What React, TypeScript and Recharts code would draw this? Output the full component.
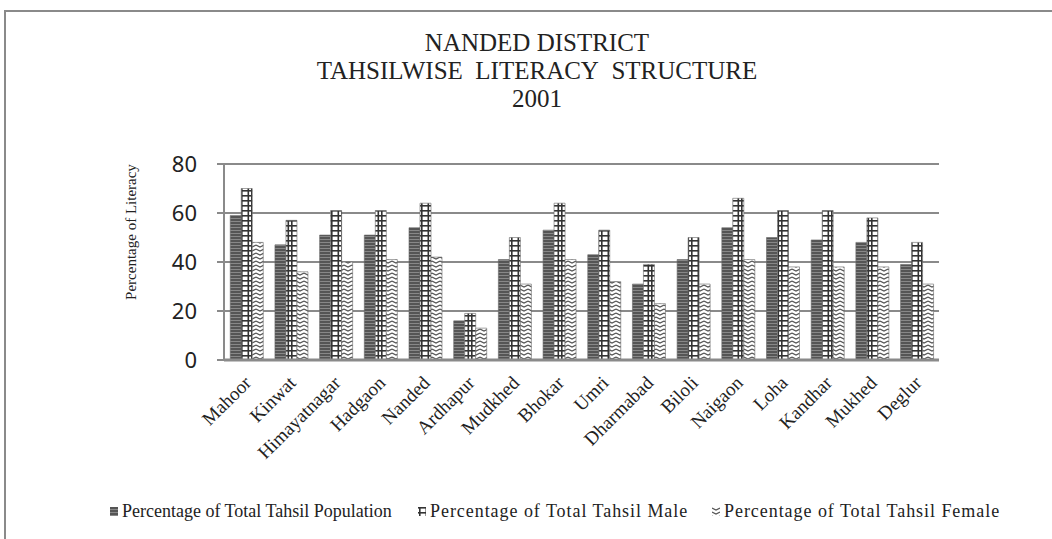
import React from "react";
import { BarChart, Bar, XAxis, YAxis, CartesianGrid } from "recharts";

const TAHSILS = [
  "Mahoor", "Kinwat", "Himayatnagar", "Hadgaon", "Nanded", "Ardhapur", "Mudkhed", "Bhokar",
  "Umri", "Dharmabad", "Biloli", "Naigaon", "Loha", "Kandhar", "Mukhed", "Deglur",
];
const TOTAL = [59, 47, 51, 51, 54, 16, 41, 53, 43, 31, 41, 54, 50, 49, 48, 39];
const MALE = [70, 57, 61, 61, 64, 19, 50, 64, 53, 39, 50, 66, 61, 61, 58, 48];
const FEMALE = [48, 36, 40, 41, 42, 13, 31, 41, 32, 23, 31, 41, 38, 38, 38, 31];
const Y_TICKS = [0, 20, 40, 60, 80];

const SERIES = [
  { key: "total", name: "Percentage of Total Tahsil Population", fill: "url(#patTotal)", lx: 110, ls: 0 },
  { key: "male", name: "Percentage of Total Tahsil Male", fill: "url(#patMale)", lx: 418, ls: 0.95 },
  { key: "female", name: "Percentage of Total Tahsil Female", fill: "url(#patFemale)", lx: 712, ls: 0.95 },
];

const data = TAHSILS.map((name, i) => ({
  name,
  total: TOTAL[i],
  male: MALE[i],
  female: FEMALE[i],
}));

const SERIF = '"Liberation Serif", "Times New Roman", serif';

const Patterns = () => (
  <defs>
    <pattern id="patTotal" width="4" height="3" patternUnits="userSpaceOnUse">
      <rect width="4" height="3" fill="#555" />
      <rect y="2" width="4" height="1" fill="#888" />
    </pattern>
    <pattern id="patMale" width="10" height="5" patternUnits="userSpaceOnUse">
      <rect width="10" height="5" fill="#fff" />
      <rect y="0" width="10" height="1.6" fill="#333" />
      <rect x="1" y="1" width="1.6" height="4" fill="#333" />
      <rect x="7.5" y="1" width="1.6" height="4" fill="#333" />
    </pattern>
    <pattern id="patFemale" width="8" height="4" patternUnits="userSpaceOnUse">
      <rect width="8" height="4" fill="#fff" />
      <path d="M0 1 L4 3 L8 1" stroke="#555" strokeWidth="1.2" fill="none" />
    </pattern>
  </defs>
);

const XTick = ({ x, y, payload }: any) => (
  <text
    x={x + 6}
    y={y + 16}
    transform={`rotate(-45 ${x + 6} ${y + 16})`}
    textAnchor="end"
    fontFamily={SERIF}
    fontSize={19}
    fill="#222"
  >
    {payload.value}
  </text>
);

const YLabel = ({ viewBox }: any) => {
  const cx = viewBox.x + 36;
  const cy = 232;
  return (
    <text
      x={cx}
      y={cy}
      transform={`rotate(-90 ${cx} ${cy})`}
      textAnchor="middle"
      fontFamily={SERIF}
      fontSize={15}
      fill="#222"
    >
      Percentage of Literacy
    </text>
  );
};

const LegendBox = () => (
  <>
    {SERIES.map((s) => (
      <div
        key={s.key}
        style={{
          position: "absolute",
          left: s.lx,
          top: 501,
          display: "flex",
          alignItems: "center",
          fontFamily: SERIF,
          fontSize: 18,
          letterSpacing: s.ls,
          color: "#222",
          whiteSpace: "nowrap",
        }}
      >
        <svg width={8} height={9} style={{ marginRight: 4 }}>
          <rect width={8} height={9} fill={s.fill} />
        </svg>
        <span>{s.name}</span>
      </div>
    ))}
  </>
);

export default function App() {
  return (
    <div
      style={{
        position: "fixed",
        left: 0,
        top: 0,
        width: 1052,
        height: 539,
        overflow: "hidden",
        background: "#fff",
      }}
    >
      <div
        style={{
          position: "absolute",
          left: 4,
          top: 10,
          width: 1100,
          height: 600,
          border: "2px solid #8a8a8a",
        }}
      />
      <div
        style={{
          position: "absolute",
          left: 0,
          top: 29,
          width: 1074,
          textAlign: "center",
          fontFamily: SERIF,
          fontSize: 25,
          lineHeight: "28px",
          color: "#222",
        }}
      >
        <div>NANDED DISTRICT</div>
        <div>TAHSILWISE&nbsp; LITERACY&nbsp; STRUCTURE</div>
        <div>2001</div>
      </div>
      <div style={{ position: "absolute", left: 0, top: 0 }}>
        <BarChart
          width={1052}
          height={539}
          data={data}
          margin={{ top: 164, right: 113, bottom: 59, left: 100 }}
          barCategoryGap="14%"
          barGap={0}
        >
          <Patterns />
          <CartesianGrid vertical={false} stroke="#8a8a8a" strokeWidth={2} />
          <XAxis
            dataKey="name"
            interval={0}
            tick={<XTick />}
            tickLine={false}
            axisLine={{ stroke: "#8a8a8a", strokeWidth: 3 }}
            height={120}
          />
          <YAxis
            domain={[0, 80]}
            ticks={Y_TICKS}
            interval={0}
            width={124}
            tick={{ fill: "#222", fontSize: 22, fontFamily: '"Noto Sans", sans-serif' }}
            tickLine={{ stroke: "#8a8a8a", strokeWidth: 2 }}
            tickSize={7}
            tickMargin={20}
            axisLine={{ stroke: "#8a8a8a", strokeWidth: 2 }}
            label={<YLabel />}
          />
          {SERIES.map((s) => (
            <Bar
              key={s.key}
              dataKey={s.key}
              name={s.name}
              fill={s.fill}
              stroke="#666"
              strokeWidth={0.6}
              isAnimationActive={false}
            />
          ))}
        </BarChart>
      </div>
      <LegendBox />
    </div>
  );
}
